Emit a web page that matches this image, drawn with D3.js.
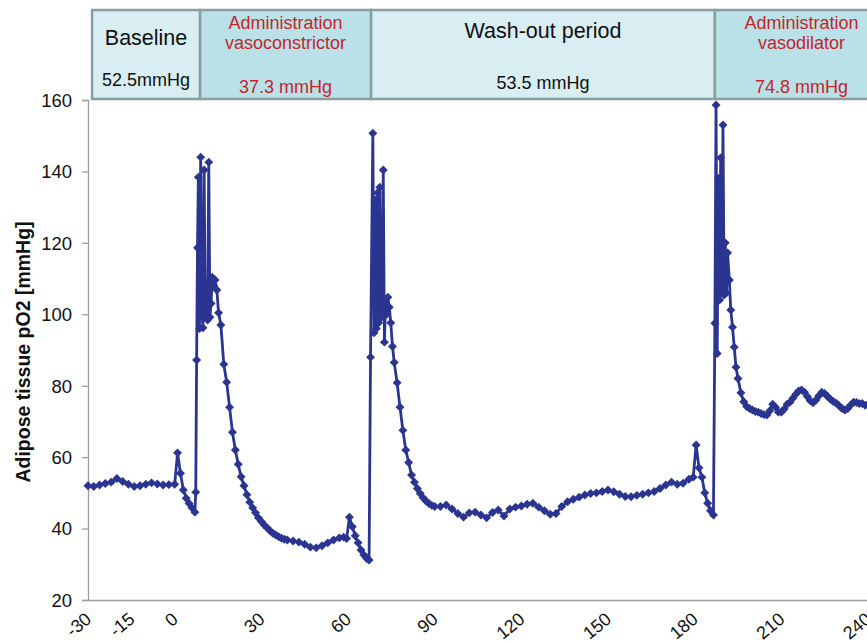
<!DOCTYPE html>
<html>
<head>
<meta charset="utf-8">
<script src="https://cdn.jsdelivr.net/npm/d3@7"></script>
<style>
  body { margin: 0; background: #fff; }
  text { font-family: "Liberation Sans", Arial, sans-serif; }
</style>
</head>
<body>
<div id="plot-container"></div>
<script>
// time in minutes
var times = [
  -30, -28, -26, -24, -22, -20, -18, -16, -14, -12, -10, -8, -6, -4, -2, 0,
  1, 2, 3, 4, 5, 6, 7, 7.3, 7.6, 7.9, 8.2, 8.6, 9, 9.4, 9.8, 10.2, 10.6, 11, 11.4, 11.8,
  12.2, 12.6, 13, 13.5, 14, 14.6, 15.2,
  16, 17, 18, 19, 20, 21, 22, 23, 24, 25, 26, 27, 28, 29, 30, 31, 32, 33, 34, 35, 36, 37, 38, 39,
  41, 43, 45, 47, 49, 51, 53, 55, 57, 58.5, 59.5, 60.5, 61.5, 62.5, 63.5, 64.5, 65.5, 66.5, 67.3,
  67.8, 68.6, 69, 69.4, 69.8, 70.2, 70.6, 71, 71.4, 71.8, 72.2, 72.6, 73, 73.4, 73.8, 74.3, 74.8,
  75.4, 76, 77, 78, 79, 80, 81, 82, 83, 84, 85, 86, 87, 88, 89, 90,
  92, 94, 96, 98, 100, 102, 104, 106, 108, 110, 112, 114, 116, 118, 120, 122, 124, 126, 128, 130,
  132, 134, 136, 138, 140, 142, 144, 146, 148, 150, 152, 154, 156, 158, 160, 162, 164, 166, 168, 170,
  172, 174, 176, 178, 179.5, 180.5, 181.5, 182.5, 183.5, 184.5, 185.5, 186.5,
  187, 187.4, 187.8, 188.2, 188.6, 189, 189.4, 189.8, 190.2, 190.6, 191, 191.4, 192, 192.5, 193.1, 193.7, 194.3,
  195, 196, 197, 198, 199, 200, 201, 202, 203, 204, 205, 206, 207, 208, 209, 210,
  211, 212, 213, 214, 215, 216, 217, 218, 219, 220, 221, 222, 223, 224, 225, 226, 227, 228, 229, 230,
  231, 232, 233, 234, 235, 236, 237, 238, 239, 240
];

// adipose tissue pO2 [mmHg]
var po2 = [
  52, 51.8, 52.2, 52.6, 53, 54, 53.2, 52.4, 51.8, 52, 52.4, 52.8, 52.5, 52.2, 52.3, 52.4,
  61.2, 55.5, 50.8, 48.5, 47, 45.8, 44.6, 50.2, 87.2, 118.6, 138.4, 96, 144, 101, 96.2, 140.4, 99, 108.8, 98.4, 142.6,
  99.2, 103, 110.4, 108, 109.6, 106.8, 100.4,
  97, 86, 81, 74, 67, 62, 58, 54.5, 52, 49.5, 47.4, 45.8, 44.4, 43, 42, 41, 40.2, 39.4, 38.7, 38.2, 37.7, 37.3, 37, 36.8,
  36.5, 36.2, 35.6, 34.8, 34.6, 35.2, 36, 36.8, 37.4, 37.6, 37.2, 43.2, 40.5, 38, 36, 34, 32.6, 31.6, 31.2,
  88, 150.7, 94.8, 132, 96, 134, 97.6, 135.6, 99, 103, 140.4, 92.2, 103, 100, 104.8, 102, 97.6,
  91, 86.5, 80.8, 74, 67.5, 62, 58.5, 55, 53, 51.2, 49.8, 48.6, 47.7, 47, 46.5, 46.2,
  46.2, 46.6, 45.5, 44.2, 43.2, 44.4, 44.6, 43.8, 43, 44.5, 45.2, 43.5, 45.5, 46, 46.3, 46.8, 47.1, 46, 45, 44,
  44.2, 46.2, 47.5, 48.2, 48.8, 49.4, 49.8, 50, 50.4, 50.8, 50.3, 49.6, 49, 48.9, 49.3, 49.6, 50, 50.4, 51.2, 52.2,
  53, 52.4, 52.7, 53.8, 54.4, 63.4, 57, 54.4, 50, 47.1, 45, 43.8,
  97.5, 158.6, 89, 138, 104, 143.8, 106, 153, 105.4, 120, 106, 117.2, 109.6, 101.2, 96.4, 90.8, 85.2,
  82, 78, 75.5, 74.2, 73.6, 73.2, 72.8, 72.6, 72.2, 71.9, 71.8, 73, 74.8, 74, 72.6, 72.6,
  73.5, 74.8, 75.4, 76.5, 77.6, 78.5, 78.8, 78.2, 77, 75.8, 75.2, 76, 77.2, 78.2, 77.8, 77, 76.2, 75.6, 75.1, 74.4,
  73.6, 73.2, 73.6, 74.6, 75.4, 75.3, 75, 75, 74.5, 74.8
];

// tick labels
var xTicks = [-30, -15, 0, 30, 60, 90, 120, 150, 180, 210, 240];
var yTicks = [20, 40, 60, 80, 100, 120, 140, 160];

// header phases (start time in minutes)
var phaseStart = [-28.6, 8.8, 68, 187];
var phaseEnd = [8.8, 68, 187, 260];
var phaseTitle = [["Baseline"], ["Administration", "vasoconstrictor"], ["Wash-out period"], ["Administration", "vasodilator"]];
var phaseValue = ["52.5mmHg", "37.3 mmHg", "53.5 mmHg", "74.8 mmHg"];

var width = 867, height = 642;
var lineColor = "#2b3591";
var red = "#c4262b";

var svg = d3.select("#plot-container")
            .append("svg")
            .attr("width", width)
            .attr("height", height);

var xScale = d3.scaleLinear()
               .domain([-30, 240])
               .range([88, 868]);

var yScale = d3.scaleLinear()
               .domain([20, 160])
               .range([600, 100]);

// y axis
var yAxis = svg.append("g")
               .attr("transform", "translate(88,0)")
               .call(d3.axisLeft(yScale).tickValues(yTicks).tickSize(6).tickPadding(10));
yAxis.selectAll("path, line").attr("stroke", "#a39b9b").attr("stroke-width", 1.3);
yAxis.selectAll("text")
     .attr("font-size", 18.5)
     .attr("fill", "#111")
     .attr("dy", "0.34em");

// x axis (labels rotated)
var xAxis = svg.append("g")
               .attr("transform", "translate(0,600)")
               .call(d3.axisBottom(xScale).tickValues(xTicks).tickSize(0).tickSizeOuter(0)
                       .tickFormat(function(d){ return String(d); }));
xAxis.select(".domain").attr("stroke", "#a39b9b").attr("stroke-width", 1.3);
xAxis.selectAll("text")
     .attr("font-size", 18)
     .attr("fill", "#111")
     .attr("text-anchor", "end")
     .attr("y", 0)
     .attr("dy", 0)
     .attr("transform", "translate(4,21) rotate(-40)");

// y axis title
svg.append("text")
   .attr("transform", "translate(30,352) rotate(-90)")
   .attr("text-anchor", "middle")
   .attr("font-size", 19.5)
   .attr("font-weight", "bold")
   .attr("fill", "#111")
   .text("Adipose tissue pO2 [mmHg]");

// line
var line = d3.line()
             .x(function(d, i){ return xScale(times[i]); })
             .y(function(d){ return yScale(d); });

svg.append("path")
   .datum(po2)
   .attr("d", line)
   .attr("fill", "none")
   .attr("stroke", lineColor)
   .attr("stroke-width", 2.8);

// diamond markers
var marker = d3.symbol().type(d3.symbolSquare).size(40);
svg.selectAll(".pt")
   .data(po2)
   .enter()
   .append("path")
   .attr("class", "pt")
   .attr("d", marker)
   .attr("fill", lineColor)
   .attr("transform", function(d, i){
       return "translate(" + xScale(times[i]) + "," + yScale(d) + ") rotate(45)";
   });

// header table
var header = svg.append("g");
var headTop = 10, headBottom = 99;
var fills = ["#d8eef2", "#b9e1e7", "#d8eef2", "#b9e1e7"];

header.selectAll("rect")
      .data(phaseStart)
      .enter()
      .append("rect")
      .attr("x", function(d){ return xScale(d); })
      .attr("y", headTop)
      .attr("width", function(d, i){ return xScale(phaseEnd[i]) - xScale(d); })
      .attr("height", headBottom - headTop)
      .attr("fill", function(d, i){ return fills[i]; })
      .attr("stroke", "#8a9e9f")
      .attr("stroke-width", 2.5);

phaseStart.forEach(function(s, i){
    var cx = (xScale(s) + xScale(Math.min(phaseEnd[i], 247))) / 2;
    var isDrug = phaseTitle[i].length > 1;
    if (isDrug) {
        header.append("text").attr("x", cx).attr("y", 29).attr("text-anchor", "middle")
              .attr("font-size", 18).attr("fill", red).text(phaseTitle[i][0]);
        header.append("text").attr("x", cx).attr("y", 49).attr("text-anchor", "middle")
              .attr("font-size", 18).attr("fill", red).text(phaseTitle[i][1]);
        header.append("text").attr("x", cx).attr("y", 93).attr("text-anchor", "middle")
              .attr("font-size", 18).attr("fill", red).text(phaseValue[i]);
    } else {
        header.append("text").attr("x", cx).attr("y", i == 0 ? 45 : 38).attr("text-anchor", "middle")
              .attr("font-size", 21.5).attr("fill", "#111").text(phaseTitle[i][0]);
        header.append("text").attr("x", cx).attr("y", i == 0 ? 86 : 89).attr("text-anchor", "middle")
              .attr("font-size", 18).attr("fill", "#111").text(phaseValue[i]);
    }
});
</script>
</body>
</html>
